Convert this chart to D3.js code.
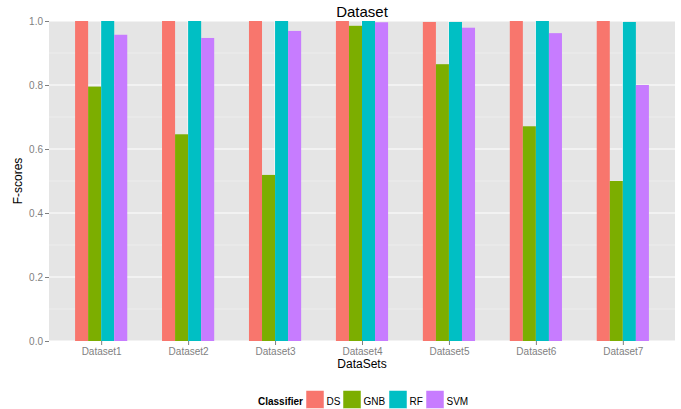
<!DOCTYPE html>
<html><head><meta charset="utf-8">
<script src="https://cdn.jsdelivr.net/npm/d3@7"></script>
<style>body{margin:0;background:#fff}svg{display:block;font-family:"Liberation Sans",Arial,sans-serif}</style>
</head><body><svg id="c" width="681" height="409"></svg>
<script>
const categories = ["Dataset1","Dataset2","Dataset3","Dataset4","Dataset5","Dataset6","Dataset7"];
const classifiers = ["DS","GNB","RF","SVM"];
const DS  = [1.0, 1.0, 1.0, 1.0, 0.997, 1.0, 1.0];
const GNB = [0.795, 0.646, 0.519, 0.985, 0.865, 0.671, 0.5];
const RF  = [1.0, 1.0, 1.0, 1.0, 0.997, 1.0, 0.997];
const SVM = [0.957, 0.947, 0.969, 0.996, 0.979, 0.962, 0.8];
const yTicks = [0, 0.2, 0.4, 0.6, 0.8, 1.0];
const yMinor = [0.1, 0.3, 0.5, 0.7, 0.9];
const colors = ["#F8766D","#7CAE00","#00BFC4","#C77CFF"];
const series = {DS, GNB, RF, SVM};

const svg = d3.select("#c");
const L = 49, R = 675, T = 21, B = 341;
const step = (R - L) / (categories.length - 1 + 1.2);
const x = d3.scalePoint().domain(categories).range([L + 0.6*step, R - 0.6*step]);
const y = d3.scaleLinear().domain([0, 1]).range([B, T]);
const groupW = 0.6 * step;
const xi = d3.scaleBand().domain(classifiers).range([-groupW/2, groupW/2]).padding(0);
const color = d3.scaleOrdinal().domain(classifiers).range(colors);

svg.append("rect").attr("x", L).attr("y", T).attr("width", R-L).attr("height", B-T).attr("fill", "#E5E5E5");
svg.append("g").selectAll("line").data(yMinor).join("line")
  .attr("x1", L).attr("x2", R).attr("y1", d=>y(d)).attr("y2", d=>y(d))
  .attr("stroke", "#F2F2F2").attr("stroke-width", 0.6);
svg.append("g").selectAll("line").data(yTicks).join("line")
  .attr("x1", L).attr("x2", R).attr("y1", d=>y(d)).attr("y2", d=>y(d))
  .attr("stroke", "#FFFFFF").attr("stroke-width", 1.1);
svg.append("g").selectAll("line").data(categories).join("line")
  .attr("x1", d=>x(d)).attr("x2", d=>x(d)).attr("y1", T).attr("y2", B)
  .attr("stroke", "#FFFFFF").attr("stroke-width", 1.1);

const rows = [];
categories.forEach((c, i) => classifiers.forEach(k => rows.push({c, k, v: series[k][i]})));
svg.append("g").selectAll("rect").data(rows).join("rect")
  .attr("x", d => x(d.c) + xi(d.k))
  .attr("width", xi.bandwidth())
  .attr("y", d => y(d.v))
  .attr("height", d => y(0) - y(d.v))
  .attr("fill", d => color(d.k));

// axes
const ya = svg.append("g").attr("transform", `translate(${L},0)`)
  .call(d3.axisLeft(y).tickValues(yTicks).tickFormat(d3.format(".1f")).tickSize(4).tickPadding(2));
const xa = svg.append("g").attr("transform", `translate(0,${B})`)
  .call(d3.axisBottom(x).tickSize(4).tickPadding(3));
[ya, xa].forEach(a => {
  a.select(".domain").remove();
  a.selectAll("line").attr("stroke", "#7F7F7F");
  a.selectAll("text").attr("fill", "#7F7F7F").style("font-size", "10px").style("font-family", "Liberation Sans, Arial, sans-serif");
});

svg.append("text").attr("x", (L+R)/2).attr("y", 17).attr("text-anchor", "middle")
  .style("font-size", "15px").attr("fill", "#000").text("Dataset");
svg.append("text").attr("x", (L+R)/2).attr("y", 368).attr("text-anchor", "middle")
  .style("font-size", "12px").attr("fill", "#000").text("DataSets");
svg.append("text").attr("transform", `translate(22,${(T+B)/2}) rotate(-90)`).attr("text-anchor", "middle")
  .style("font-size", "12px").attr("fill", "#000").text("F-scores");

// legend
const lg = svg.append("g");
lg.append("text").attr("x", 303).attr("y", 405).attr("text-anchor", "end")
  .style("font-size", "10px").style("font-weight", "bold").text("Classifier");
const keyX = [306, 343, 389, 426];
classifiers.forEach((k, i) => {
  lg.append("rect").attr("x", keyX[i]).attr("y", 390.5).attr("width", 18).attr("height", 18)
    .attr("fill", color(k)).attr("stroke", "#fff").attr("stroke-width", 0.5);
  lg.append("text").attr("x", keyX[i] + 20.5).attr("y", 405).style("font-size", "10px").text(k);
});
</script></body></html>
